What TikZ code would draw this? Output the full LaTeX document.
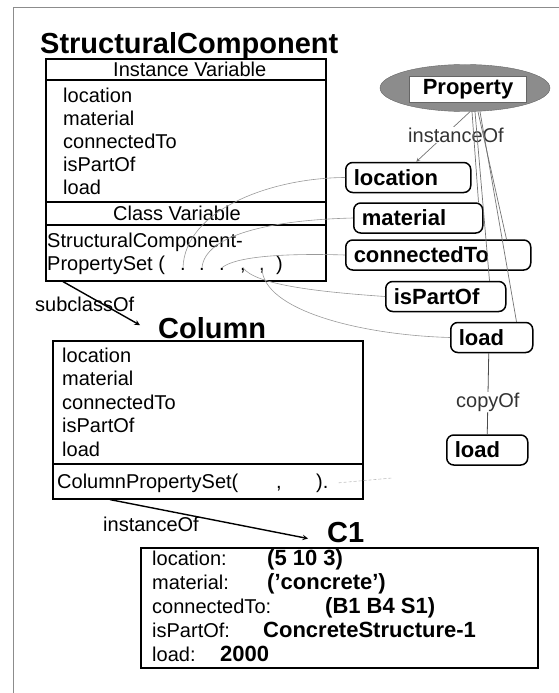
\documentclass[tikz,border=0pt]{standalone}
\usepackage{fontspec}
\setmainfont{Liberation Sans}
\usetikzlibrary{shapes, positioning, arrows.meta}

\newcommand{\slotfont}{\fontsize{20}{23}\selectfont}
\newcommand{\valfont}{\fontsize{22}{24}\selectfont\bfseries}
\newcommand{\clsfont}{\fontsize{29}{31}\selectfont\bfseries}

\tikzset{
    vartext/.style={anchor=base west, inner sep=0pt, font=\slotfont},
    valtext/.style={anchor=base west, inner sep=0pt, font=\valfont},
    clstitle/.style={anchor=base west, inner sep=0pt, font=\clsfont},
    classbox/.style={draw, line width=1.6pt, anchor=north west, inner sep=0pt},
    propbox/.style={draw, line width=1.5pt, rounded corners=7pt, font=\valfont,
        minimum height=30pt, inner xsep=8pt, anchor=west, align=left, text width=#1},
    propline/.style={draw=black!55, line width=0.7pt},
    slotcurve/.style={draw=black!40, line width=0.6pt},
}

\begin{document}
\begin{tikzpicture}[x=1pt, y=-1pt, >=stealth] % pixel-like grid, y grows downward
    \useasboundingbox (0,0) rectangle (559,693);
    % Page frame
    \draw[black!45, line width=1pt] (13,693) -- (13,8) -- (559,8);

    % StructuralComponent class
    \node[clstitle] (sctitle) at (40,53) {StructuralComponent};
    \node[classbox, minimum width=280pt, minimum height=222pt] (sc) at (45,58) {};
    \draw[line width=1.6pt] (45,80) -- (325,80);
    \draw[line width=1.6pt] (45,202) -- (325,202);
    \draw[line width=1.6pt] (45,225) -- (325,225);
    \node[vartext] (scinst) at (113,77) {Instance Variable};
    \foreach \slot [count=\i] in {location,material,connectedTo,isPartOf,load}
        \node[vartext] (scv\i) at (63,{102+23*(\i-1)}) {\slot};
    \node[vartext] (sccls) at (113,220) {Class Variable};
    \node[vartext] (scset) at (47,247) {StructuralComponent-};
    \node[vartext] (scsetb) at (47,270) {PropertySet (};
    % Slots of the property set
    \node[vartext, anchor=base] (d1) at (183,270) {.};
    \node[vartext, anchor=base] (d2) at (202,270) {.};
    \node[vartext, anchor=base] (d3) at (222,270) {.};
    \node[vartext, anchor=base] (d4) at (243,270) {,};
    \node[vartext, anchor=base] (d5) at (262,270) {,};
    \node[vartext] (scclose) at (276,270) {)};

    % Property class and its instances
    \node[ellipse, fill=black!45, draw=black!60, minimum width=170pt, minimum height=47pt] (prop) at (465,88) {};
    \node[draw=black!60, fill=white, font=\valfont, minimum width=117pt, minimum height=25pt] (proptag) at (468,89) {Property};
    \node[propbox=109pt] (location) at (345,177.5) {location};
    \node[propbox=113pt] (material) at (353,218) {material};
    \node[propbox=169pt] (connectedTo) at (345,255) {connectedTo};
    \node[propbox=104pt] (isPartOf) at (385,296.5) {isPartOf};
    \node[propbox=66pt] (load) at (450,337.5) {load};
    \node[propbox=65pt] (loadcopy) at (446,450) {load};

    % instanceOf links from Property
    \draw[propline, ->] ([xshift=5pt]prop.south) -- ([xshift=8pt]location.north);
    \node[fill=white, inner sep=1pt, font=\slotfont, text=black!80] (propinst) at (456,135) {instanceOf};
    \draw[propline] ([xshift=7pt]prop.south) -- ([xshift=-5pt]material.north east);
    \draw[propline] ([xshift=13pt]prop.south) -- ([xshift=-25pt]connectedTo.north east);
    \draw[propline] ([xshift=10pt]prop.south) -- ([xshift=-17pt]isPartOf.north east);
    \draw[propline] ([xshift=15pt]prop.south) -- ([xshift=-17pt]load.north east);
    \draw[black!70, line width=0.8pt] ([xshift=-3pt]load.south) -- node[pos=0.6, fill=white, inner sep=1pt, font=\slotfont, text=black!80] (copylbl) {copyOf} (loadcopy.north);

    % Property instances plugged into the set
    \draw[slotcurve] (location.west) .. controls (270,178) and (185,210) .. (d1.north);
    \draw[slotcurve] (material.west) .. controls (270,220) and (205,235) .. (d2.north);
    \draw[slotcurve] (connectedTo.west) .. controls (280,253) and (235,257) .. (d3.north);
    \draw[slotcurve] (isPartOf.west) .. controls (320,292) and (255,285) .. (d4.north);
    \draw[slotcurve] (load.west) .. controls (360,335) and (262,310) .. (d5.north);

    % Column class
    \node[clstitle] (coltitle) at (158,338) {Column};
    \draw[->, line width=1.4pt] ([xshift=18pt]sc.south west) -- ([xshift=-18pt, yshift=2.5pt]coltitle.west);
    \node[vartext] (subcls) at (35,311) {subclassOf};
    \node[classbox, minimum width=310pt, minimum height=158pt] (col) at (52,340) {};
    \draw[line width=1.6pt] (52,464) -- (362,464);
    \foreach \slot [count=\i] in {location,material,connectedTo,isPartOf,load}
        \node[vartext] (colv\i) at (62,{362+23.5*(\i-1)}) {\slot};
    \node[vartext] (colset) at (57,488) {ColumnPropertySet(};
    \node[vartext] (colcomma) at (276,488) {,};
    \node[vartext] (colparen) at (316,488) {).};
    \coordinate (fade) at (392,478);
    \draw[slotcurve, densely dashed, black!25] ([xshift=10pt]colparen.east) -- (fade);

    % Instance C1
    \node[clstitle] (c1title) at (327,542) {C1};
    \draw[->, line width=1.4pt] ([xshift=58pt]col.south west) -- ([xshift=-19pt, yshift=-6.5pt]c1title.west);
    \node[vartext] (c1inst) at (103,531) {instanceOf};
    \node[classbox, minimum width=397pt, minimum height=120pt] (c1) at (140,547) {};
    \node[vartext] (c1l1) at (152,565) {location:};
    \node[vartext] (c1l2) at (152,589) {material:};
    \node[vartext] (c1l3) at (152,613) {connectedTo:};
    \node[vartext] (c1l4) at (152,637) {isPartOf:};
    \node[vartext] (c1l5) at (152,661) {load:};
    \node[valtext] (c1v1) at (267,565) {(5 10 3)};
    \node[valtext] (c1v2) at (267,589) {('concrete')};
    \node[valtext] (c1v3) at (325,613) {(B1 B4 S1)};
    \node[valtext] (c1v4) at (263,637) {ConcreteStructure-1};
    \node[valtext] (c1v5) at (220,661) {2000};
\end{tikzpicture}
\end{document}
